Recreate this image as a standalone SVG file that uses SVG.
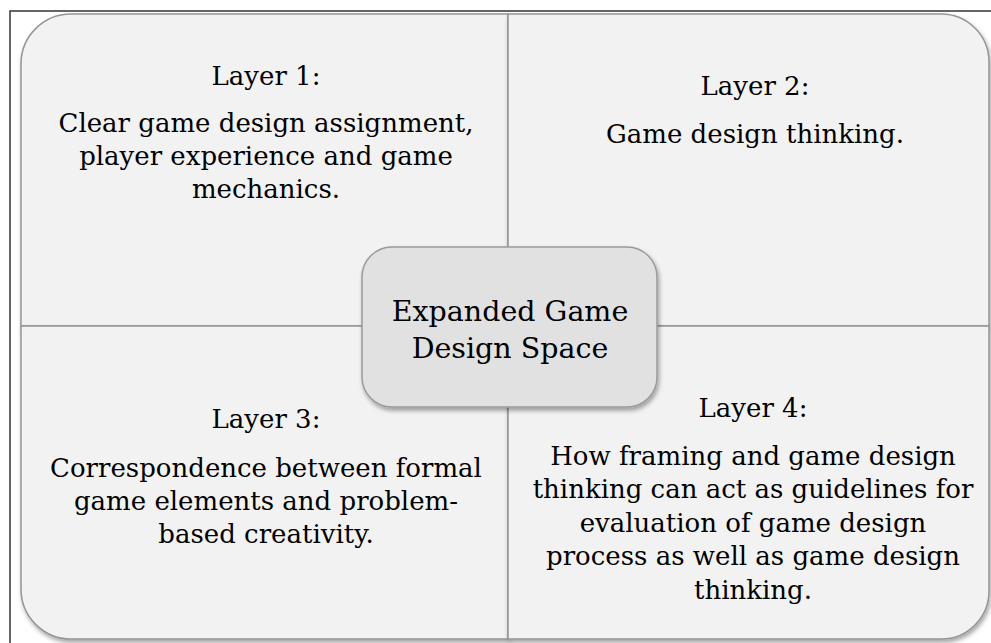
<svg xmlns="http://www.w3.org/2000/svg" width="991" height="643" viewBox="0 0 991 643">
<defs>
<filter id="sh" x="-10%" y="-10%" width="120%" height="120%">
<feDropShadow dx="1.5" dy="3" stdDeviation="2" flood-color="#000" flood-opacity="0.35"/>
</filter>
<style>
.q{fill:#f2f2f2;stroke:#959595;stroke-width:1.5}
.c{fill:#e1e1e1;stroke:#9a9a9a;stroke-width:1.5}
.t{font-family:"DejaVu Serif","Liberation Serif",serif;font-size:26px;fill:#000;text-anchor:middle}
.ct{font-size:28.5px}
</style>
</defs>
<rect width="991" height="643" fill="#ffffff"/>
<rect x="10" y="11" width="1100" height="800" fill="none" stroke="#333" stroke-width="1.5"/>
<g id="layer1">
<path class="q" filter="url(#sh)" d="M21,326 V64 A50,50 0 0 1 71,14 H508 V326 Z"/>
<text class="t" x="266" y="85">Layer 1:</text>
<text class="t" x="266" y="132">Clear game design assignment,</text>
<text class="t" x="266" y="165">player experience and game</text>
<text class="t" x="266" y="198">mechanics.</text>
</g>
<g id="layer2">
<path class="q" filter="url(#sh)" d="M508,14 H941 A48,48 0 0 1 989,62 V326 H508 Z"/>
<text class="t" x="755" y="95">Layer 2:</text>
<text class="t" x="755" y="143">Game design thinking.</text>
</g>
<g id="layer3">
<path class="q" filter="url(#sh)" d="M21,326 H508 V639 H71 A50,50 0 0 1 21,589 Z"/>
<text class="t" x="266" y="428">Layer 3:</text>
<text class="t" x="266" y="477">Correspondence between formal</text>
<text class="t" x="266" y="510">game elements and problem-</text>
<text class="t" x="266" y="543">based creativity.</text>
</g>
<g id="layer4">
<path class="q" filter="url(#sh)" d="M508,326 H989 V591 A48,48 0 0 1 941,639 H508 Z"/>
<text class="t" x="753" y="417">Layer 4:</text>
<text class="t" x="753" y="465">How framing and game design</text>
<text class="t" x="753" y="498">thinking can act as guidelines for</text>
<text class="t" x="753" y="532">evaluation of game design</text>
<text class="t" x="753" y="565">process as well as game design</text>
<text class="t" x="753" y="599">thinking.</text>
</g>
<g id="connectors"></g>
<g id="center">
<rect class="c" filter="url(#sh)" x="362" y="247" width="295" height="160" rx="30" ry="30"/>
<text class="t ct" x="510" y="321">Expanded Game</text>
<text class="t ct" x="510" y="358">Design Space</text>
</g>
</svg>
